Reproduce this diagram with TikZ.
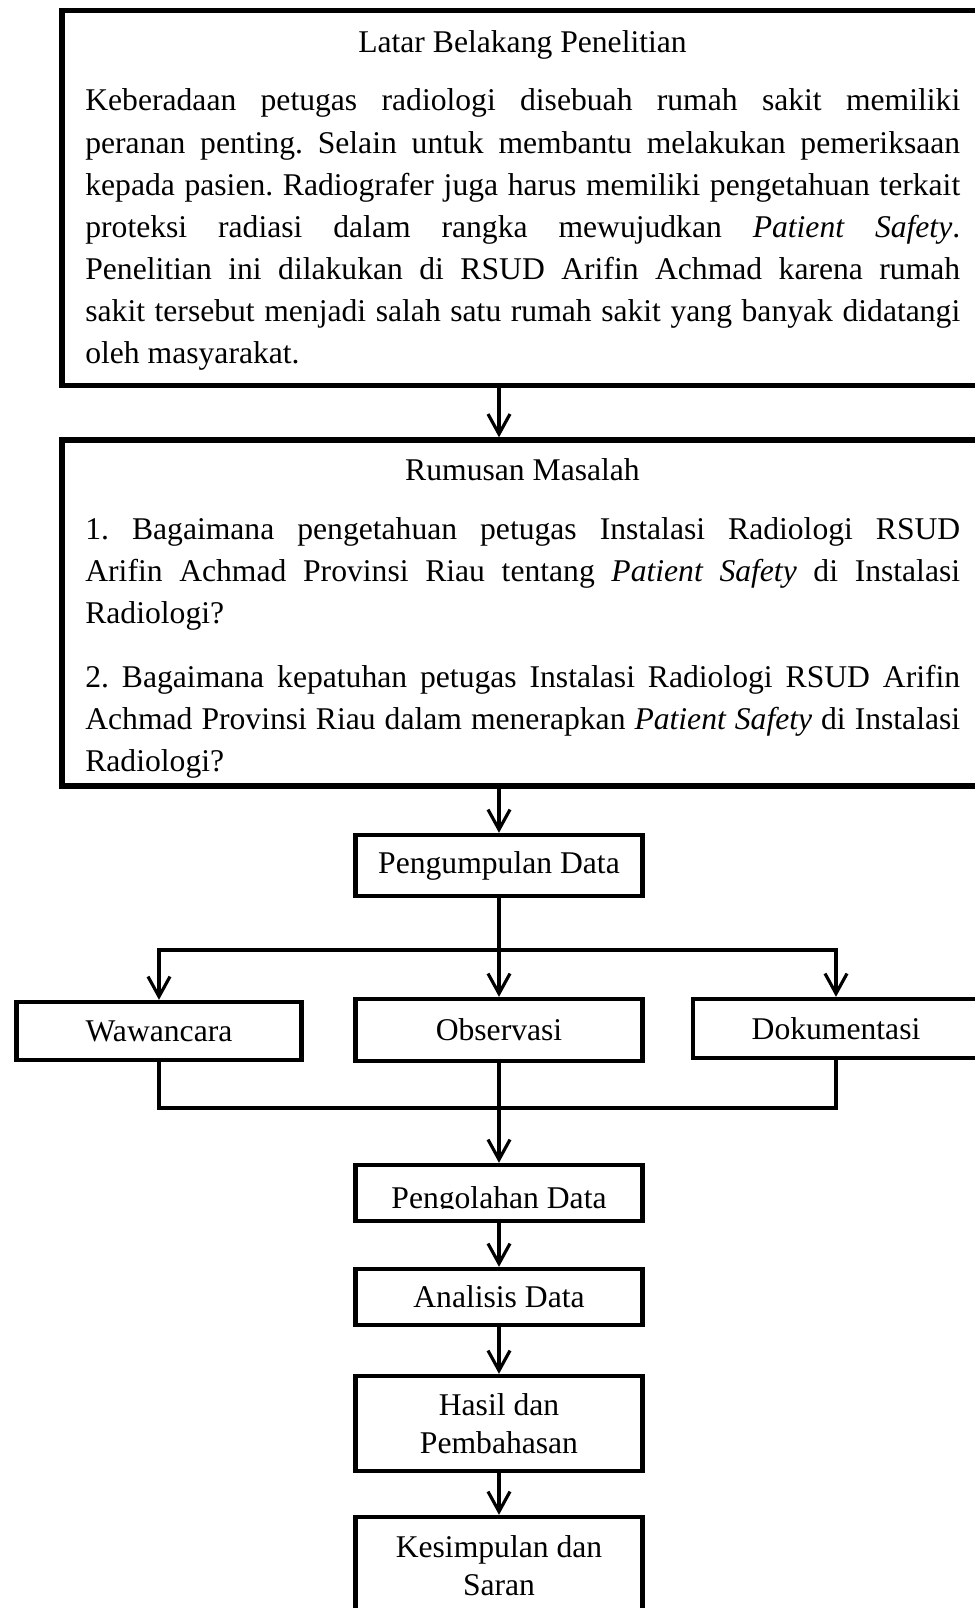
\documentclass[tikz,border=0pt]{standalone}
\usepackage{fontspec}
\setmainfont{Liberation Serif}
\usetikzlibrary{arrows.meta}
\frenchspacing

\begin{document}
\begin{tikzpicture}[
  x=0.02cm, y=-0.02cm,
  bingkai/.style={draw=black, line width=3.1pt, inner sep=0pt,
                  minimum width=18.42cm},
  judul/.style={font=\fontsize{18}{24}\selectfont, inner sep=0pt,
                anchor=base},
  isi/.style={font=\fontsize{18}{24}\selectfont, text width=17.5cm,
              align=justify, inner sep=0pt, anchor=base west},
  langkah/.style={draw=black, line width=2.5pt, inner sep=0pt,
                  minimum width=5.74cm, align=center,
                  font=\fontsize{18}{21.6}\selectfont},
  garis/.style={draw=black, line width=1.8pt},
  panah/.style={garis, -{Straight Barb[length=0.4cm, width=0.44cm]}}
]
\useasboundingbox (0,0) rectangle (974,1608);

%--------------------------------------------------------------
% Latar belakang penelitian
%--------------------------------------------------------------
\node[bingkai, minimum height=7.5cm] (latar) at (522.5,198) {};
\node[judul] (latarJudul) at (522.5,53) {Latar Belakang Penelitian};
\node[isi] (latarIsi) at (85,111)
  {Keberadaan petugas radiologi disebuah rumah sakit memiliki\linebreak
   peranan penting. Selain untuk membantu melakukan pemeriksaan\linebreak
   kepada pasien. Radiografer juga harus memiliki pengetahuan terkait\linebreak
   proteksi radiasi dalam rangka mewujudkan \textit{Patient Safety}.\linebreak
   Penelitian ini dilakukan di RSUD Arifin Achmad karena rumah\linebreak
   sakit tersebut menjadi salah satu rumah sakit yang banyak didatangi\linebreak
   oleh masyarakat.};

%--------------------------------------------------------------
% Rumusan masalah
%--------------------------------------------------------------
\node[bingkai, minimum height=6.92cm] (rumusan) at (522.5,613) {};
\node[judul] (rumusanJudul) at (522.5,480) {Rumusan Masalah};
\node[isi] (rumusanSatu) at (85,539)
  {1. Bagaimana pengetahuan petugas Instalasi Radiologi RSUD\linebreak
   Arifin Achmad Provinsi Riau tentang \textit{Patient Safety} di Instalasi\linebreak
   Radiologi?};
\node[isi] (rumusanDua) at (85,687)
  {2. Bagaimana kepatuhan petugas Instalasi Radiologi RSUD Arifin\linebreak
   Achmad Provinsi Riau dalam menerapkan \textit{Patient Safety} di Instalasi\linebreak
   Radiologi?};

%--------------------------------------------------------------
% Tahapan penelitian
%--------------------------------------------------------------
\node[langkah, minimum height=1.22cm] (pengumpulan) at (499,865.5) {Pengumpulan Data};
\node[langkah, minimum width=5.7cm, minimum height=1.16cm] (wawancara) at (159,1031) {Wawancara};
\node[langkah, minimum height=1.24cm] (observasi) at (499,1030) {Observasi};
\node[langkah, minimum width=5.72cm, minimum height=1.18cm] (dokumentasi) at (836,1028.5) {Dokumentasi};
\node[langkah, minimum height=1.12cm] (pengolahan) at (499,1193) {};
\begin{scope}
  \clip (352,1170) rectangle (646,1208);
  \node[font=\fontsize{18}{21.6}\selectfont, inner sep=0pt, anchor=base]
    (pengolahanTeks) at (499,1208) {Pengolahan Data};
\end{scope}
\node[langkah, minimum height=1.12cm] (analisis) at (499,1297) {Analisis Data};
\node[langkah, minimum height=1.9cm] (hasil) at (499,1423.5) {Hasil dan\\ Pembahasan};
\node[langkah, minimum height=1.96cm] (kesimpulan) at (499,1566) {Kesimpulan dan\\ Saran};

\coordinate (cabang) at (499,950);
\coordinate (gabung) at (499,1108);

%--------------------------------------------------------------
% Panah
%--------------------------------------------------------------
\draw[panah] (latar.south -| pengumpulan) -- (rumusan.north -| pengumpulan);
\draw[panah] (rumusan.south -| pengumpulan) -- (pengumpulan.north);
\draw[garis] (pengumpulan.south) -- (cabang);
\draw[panah] (cabang) -| (wawancara.north);
\draw[panah] (cabang) -| (dokumentasi.north);
\draw[panah] (cabang) -- (observasi.north);
\draw[garis] (wawancara.south) |- (gabung) -| (dokumentasi.south);
\draw[panah] (observasi.south) -- (pengolahan.north);
\draw[panah] (pengolahan.south) -- (analisis.north);
\draw[panah] (analisis.south) -- (hasil.north);
\draw[panah] (hasil.south) -- (kesimpulan.north);

\end{tikzpicture}
\end{document}
